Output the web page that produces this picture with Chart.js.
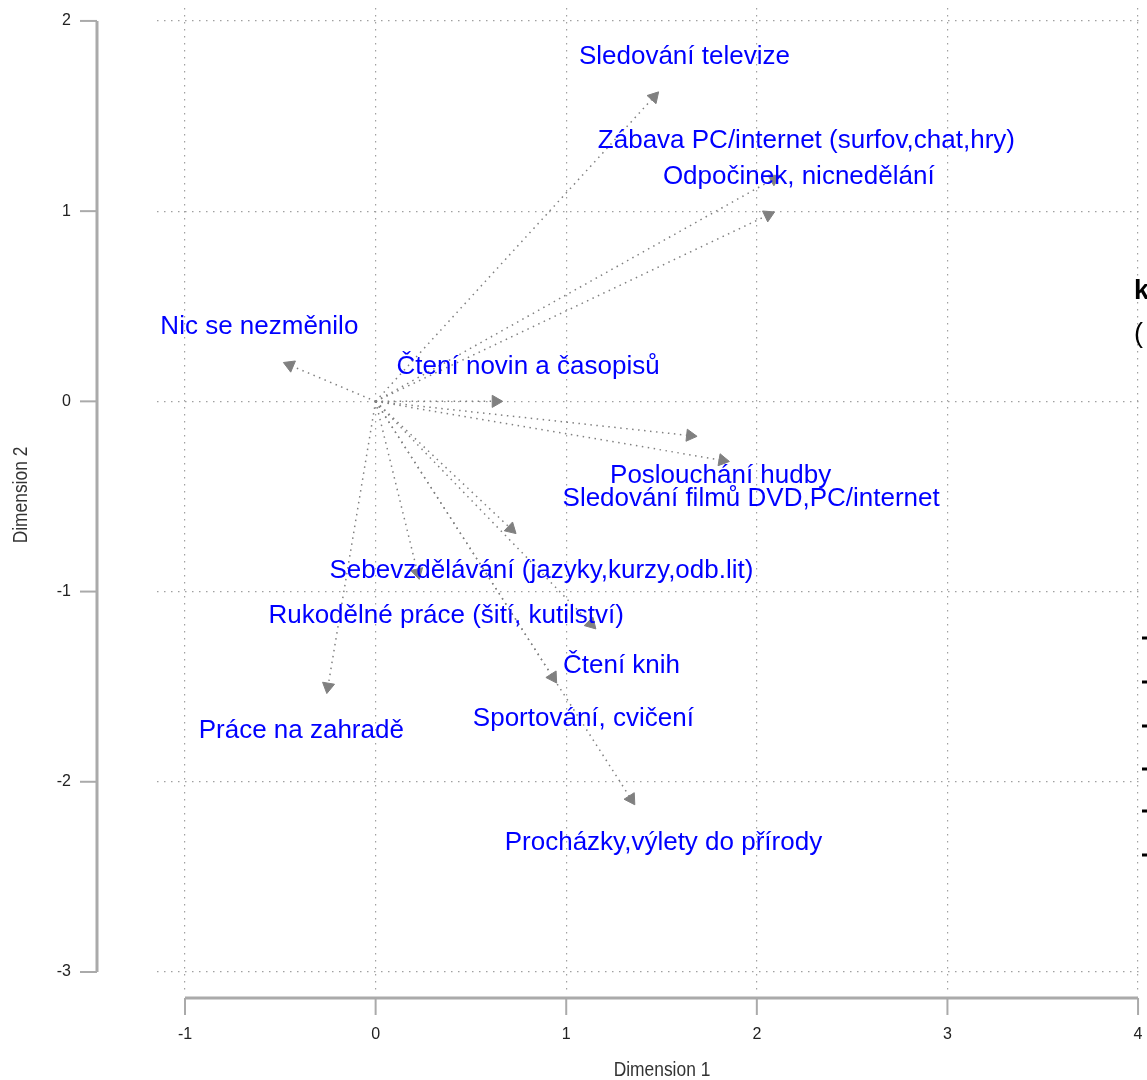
<!DOCTYPE html>
<html>
<head>
<meta charset="utf-8">
<script src="https://cdn.jsdelivr.net/npm/chart.js@4.4.0/dist/chart.umd.min.js"></script>
<style>
html,body{margin:0;padding:0;background:#fff;}
#wrap{width:1147px;height:1080px;}
</style>
</head>
<body>
<div id="wrap"><canvas id="myChart" width="1147" height="1080"></canvas></div>
<script>
// activity names (original Czech labels)
const names = [
  "Sledování televize",
  "Zábava PC/internet (surfov,chat,hry)",
  "Odpočinek, nicnedělání",
  "Nic se nezměnilo",
  "Čtení novin a časopisů",
  "Poslouchání hudby",
  "Sledování filmů DVD,PC/internet",
  "Sebevzdělávání (jazyky,kurzy,odb.lit)",
  "Rukodělné práce (šití, kutilství)",
  "Čtení knih",
  "Sportování, cvičení",
  "Práce na zahradě",
  "Procházky,výlety do přírody"
];
// arrow end points (Dimension 1 / Dimension 2)
const dim1 = [1.46, 2.09, 2.06, -0.45, 0.63, 1.65, 1.82, 0.71, 0.22, 1.13, 0.93, -0.25, 1.34];
const dim2 = [1.60, 1.17, 0.98, 0.19, 0.00, -0.18, -0.31, -0.67, -0.90, -1.17, -1.45, -1.50, -2.09];
// where each label text sits
const labelDim1 = [1.62, 2.26, 2.22, -0.61, 0.80, 1.81, 1.97, 0.87, 0.37, 1.29, 1.09, -0.39, 1.51];
const labelDim2 = [1.81, 1.37, 1.18, 0.39, 0.18, -0.39, -0.51, -0.89, -1.13, -1.39, -1.67, -1.73, -2.32];

const xTicks = [-1, 0, 1, 2, 3, 4];
const yTicks = [2, 1, 0, -1, -2, -3];

const arrowColor = "rgb(128,128,128)";

let datasets = names.map((n, i) => {
    let rot = Math.atan2(dim1[i], dim2[i]) * 180 / Math.PI;
    return {
        label: n,
        data: [{x: 0, y: 0}, {x: dim1[i], y: dim2[i]}],
        showLine: true,
        borderColor: arrowColor,
        borderWidth: 1.5,
        borderDash: [1.5, 4.5],
        pointRadius: [0, 7],
        pointStyle: "triangle",
        pointRotation: rot,
        pointBackgroundColor: arrowColor,
        pointBorderColor: arrowColor,
        pointBorderWidth: 1
    };
});

const rAxes = {
    id: "rAxes",
    afterDatasetsDraw(chart) {
        const c = chart.ctx;
        const xs = chart.scales.x, ys = chart.scales.y;
        c.save();
        // point labels
        c.fillStyle = "#0000ff";
        c.font = "26px 'Liberation Sans', Arial, sans-serif";
        c.textAlign = "center";
        c.textBaseline = "middle";
        names.forEach((n, i) => {
            c.fillText(n, xs.getPixelForValue(labelDim1[i]), ys.getPixelForValue(labelDim2[i]));
        });
        c.restore();
    },
    afterDraw(chart) {
        const c = chart.ctx;
        const xs = chart.scales.x, ys = chart.scales.y;
        c.save();
        c.strokeStyle = "#aaaaaa";
        c.lineCap = "butt";
        // y axis
        let ax = 97;
        c.lineWidth = 3;
        c.beginPath();
        c.moveTo(ax, ys.getPixelForValue(yTicks[0]));
        c.lineTo(ax, ys.getPixelForValue(yTicks[yTicks.length - 1]));
        c.stroke();
        c.lineWidth = 2;
        c.fillStyle = "#222";
        c.font = "16px 'Liberation Sans', Arial, sans-serif";
        c.textAlign = "right";
        c.textBaseline = "middle";
        yTicks.forEach(t => {
            let py = ys.getPixelForValue(t);
            c.beginPath();
            c.moveTo(80, py);
            c.lineTo(ax, py);
            c.stroke();
            c.fillText(t < 0 ? "-" + Math.abs(t) : String(t), 71, py);
        });
        // x axis
        let ay = 998;
        c.lineWidth = 3;
        c.beginPath();
        c.moveTo(xs.getPixelForValue(xTicks[0]), ay);
        c.lineTo(xs.getPixelForValue(xTicks[xTicks.length - 1]), ay);
        c.stroke();
        c.lineWidth = 2;
        c.textAlign = "center";
        xTicks.forEach(t => {
            let px = xs.getPixelForValue(t);
            c.beginPath();
            c.moveTo(px, ay);
            c.lineTo(px, 1015);
            c.stroke();
            c.fillText(t < 0 ? "-" + Math.abs(t) : String(t), px, 1035);
        });
        // axis titles (narrow look)
        c.fillStyle = "#333";
        c.font = "20px 'Liberation Sans', Arial, sans-serif";
        c.save();
        c.translate(662, 1070);
        c.scale(0.87, 1);
        c.fillText("Dimension 1", 0, 0);
        c.restore();
        c.translate(21, 495);
        c.rotate(-Math.PI / 2);
        c.scale(0.87, 1);
        c.fillText("Dimension 2", 0, 0);
        c.restore();

        // cut-off legend at the right border
        c.save();
        c.fillStyle = "#000";
        c.textAlign = "left";
        c.textBaseline = "middle";
        c.font = "bold 27px 'Liberation Sans', Arial, sans-serif";
        c.fillText("k", 1134, 292);
        c.font = "27px 'Liberation Sans', Arial, sans-serif";
        c.fillText("(", 1134, 335);
        c.strokeStyle = "#000";
        c.lineWidth = 3;
        [638, 682, 726, 769, 811, 855].forEach(y => {
            c.beginPath();
            c.moveTo(1142, y);
            c.lineTo(1147, y);
            c.stroke();
        });
        c.restore();
    }
};

const ctx = document.getElementById('myChart').getContext('2d');
const myChart = new Chart(ctx, {
    type: 'scatter',
    data: { datasets: datasets },
    options: {
        responsive: false,
        animation: false,
        layout: { padding: { left: 157, right: 0, top: 0, bottom: 85 } },
        plugins: { legend: { display: false }, tooltip: { enabled: false } },
        scales: {
            x: {
                type: 'linear',
                min: -1.147,
                max: 4.005,
                afterFit: s => { s.height = 0; },
                ticks: { display: false, stepSize: 1, includeBounds: false },
                grid: { color: "#a0a0a0", lineWidth: 1.2, drawTicks: false },
                border: { display: false, dash: [1.5, 5.5] }
            },
            y: {
                type: 'linear',
                min: -3.121,
                max: 2.068,
                afterFit: s => { s.width = 0; },
                ticks: { display: false, stepSize: 1, includeBounds: false },
                grid: { color: "#a0a0a0", lineWidth: 1.2, drawTicks: false },
                border: { display: false, dash: [1.5, 5.5] }
            }
        }
    },
    plugins: [rAxes]
});
</script>
</body>
</html>
